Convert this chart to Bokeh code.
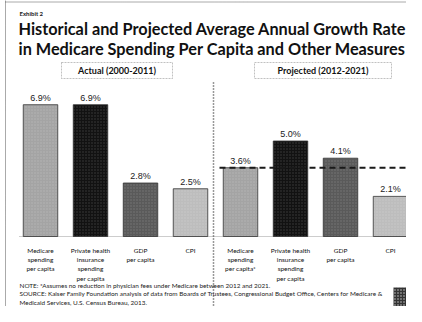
from bokeh.plotting import figure
from bokeh.models import ColumnDataSource, Label, BoxAnnotation, Range1d
from bokeh.core.properties import value
from bokeh.embed import file_html
from bokeh.resources import INLINE

# ---- data ----
period_titles = ["Actual (2000-2011)", "Projected (2012-2021)"]
actual_values = [6.9, 6.9, 2.8, 2.5]
projected_values = [3.6, 5.0, 4.1, 2.1]
actual_labels = ["Medicare\nspending\nper capita", "Private health\ninsurance\nspending\nper capita",
                 "GDP\nper capita", "CPI"]
projected_labels = ["Medicare\nspending\nper capita*", "Private health\ninsurance\nspending\nper capita",
                    "GDP\nper capita", "CPI"]
bar_colors = ["#a4a4a4", "#121212", "#5a5a5a", "#bdbdbd"]
title_lines = ["Historical and Projected Average Annual Growth Rate",
               "in Medicare Spending Per Capita and Other Measures"]
notes = ["NOTE: *Assumes no reduction in physician fees under Medicare between 2012 and 2021.",
         "SOURCE:  Kaiser Family Foundation analysis of data from Boards of Trustees, Congressional Budget Office, Centers for Medicare  &",
         "Medicaid Services, U.S. Census Bureau, 2013."]

cats = actual_labels + projected_labels
vals = actual_values + projected_values
xpos = list(range(len(cats)))
src = ColumnDataSource(dict(
    x=xpos,
    top=vals,
    color=bar_colors * 2,
    txt=[f"{v:.1f}%" for v in vals],
    cat=cats,
    zero=[0] * len(vals),
))

W, H = 406, 306
PXU = 19.1        # pixels per percentage point
BASE = 236        # baseline pixel from top of figure
STEP = 50         # pixels per category
X0 = 40           # pixel of first category centre

p = figure(width=W, height=H,
           x_range=Range1d(-X0 / STEP, (W - X0) / STEP),
           y_range=Range1d(-(H - BASE) / PXU, BASE / PXU),
           x_axis_location=None, y_axis_location=None,
           output_backend="svg", toolbar_location=None,
           min_border_left=0, min_border_right=0, min_border_top=0, min_border_bottom=0)
p.grid.visible = False
p.outline_line_color = None
p.background_fill_color = "white"

def sy(py):
    return H - py

def yv(py):
    return (BASE - py) / PXU

def xv(px):
    return (px - X0) / STEP

n_act = len(actual_values)

# page border (left and top, dotted)
p.segment(x0=[xv(5), xv(5)], y0=[yv(0), yv(1.5)], x1=[xv(5), xv(W + 5)], y1=[yv(H + 5), yv(1.5)],
          line_color="#555555", line_width=1, line_dash="1 1")

# baseline
p.segment(x0=[-0.42], y0=[0], x1=[len(cats) - 0.5], y1=[0],
          line_color="#9a9a9a", line_width=1, line_dash="1 1")

# bars
p.vbar(x="x", top="top", width=0.69, source=src, fill_color="color",
       line_color="#333333", line_width=0.8,
       hatch_pattern="dot", hatch_color="#ffffff", hatch_alpha=0.18, hatch_scale=3)

# reference dashed line at projected Medicare level
p.segment(x0=[n_act - 0.42], y0=[projected_values[0]],
          x1=[len(cats) + 0.2], y1=[projected_values[0]],
          line_color="#1a1a1a", line_width=2, line_dash="6 4")

# divider
p.segment(x0=[n_act - 0.54], y0=[yv(H + 5)], x1=[n_act - 0.54], y1=[yv(80)],
          line_color="#333333", line_width=1.5, line_dash="1 2")

# value labels
p.text(x="x", y="top", text="txt", source=src, text_align="center", text_baseline="bottom",
       y_offset=-2, text_font=value("Liberation Sans"), text_font_size="9px", text_color="#222222")

# category labels
p.text(x="x", y="zero", text="cat", source=src, text_align="center", text_baseline="top",
       y_offset=10, text_font=value("Lato"), text_font_size="6.5px", text_line_height=1.34,
       text_color="#111111")

# header boxes
for (l, r, t) in [(61, 172, period_titles[0]), (254, 391, period_titles[1])]:
    p.add_layout(BoxAnnotation(left=l, right=r, top=sy(62), bottom=sy(78),
                               left_units="screen", right_units="screen",
                               top_units="screen", bottom_units="screen",
                               fill_color="white", fill_alpha=1, line_color="#333333",
                               line_width=1, line_dash="2 1"))
    p.add_layout(Label(x=(l + r) / 2, y=sy(70), x_units="screen", y_units="screen", text=t,
                       text_align="center", text_baseline="middle", text_font="Lato",
                       text_font_style="bold", text_font_size="9px", text_color="#111111"))

# titles
p.add_layout(Label(x=19, y=sy(13), x_units="screen", y_units="screen", text="Exhibit 2",
                   text_baseline="middle", text_font="Lato", text_font_style="bold",
                   text_font_size="6px", text_color="#222222"))
for i, line in enumerate(title_lines):
    p.add_layout(Label(x=18, y=sy(28 + 20 * i), x_units="screen", y_units="screen", text=line,
                       text_baseline="middle", text_font="Lato", text_font_style="bold",
                       text_font_size="16.3px", text_color="#111111"))

for i, line in enumerate(notes):
    p.add_layout(Label(x=19, y=sy(285 + 8.3 * i), x_units="screen", y_units="screen", text=line,
                       text_baseline="middle", text_font="Lato",
                       text_font_size="6.4px", text_color="#222222"))

# logo block
p.add_layout(BoxAnnotation(left=393, right=406, top=sy(287), bottom=sy(306),
                           left_units="screen", right_units="screen",
                           top_units="screen", bottom_units="screen",
                           fill_color="#333333", fill_alpha=1, line_color=None,
                           hatch_pattern="dot", hatch_color="#cccccc", hatch_scale=3))

open("out.html", "w").write(file_html(p, INLINE))
